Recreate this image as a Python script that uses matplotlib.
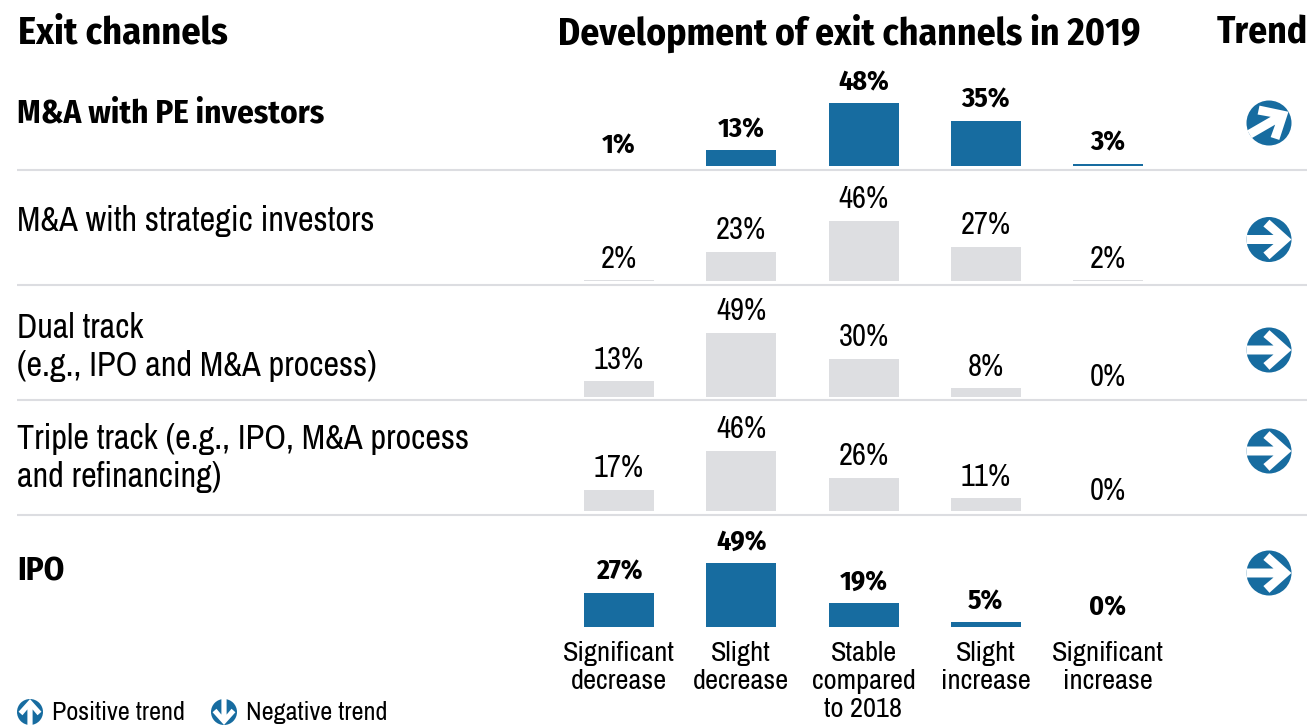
import matplotlib
matplotlib.use('Agg')
import matplotlib.pyplot as plt
from matplotlib.patches import Circle, Polygon
from matplotlib.transforms import Affine2D

plt.rcParams['font.family'] = ['Archivo Narrow', 'PT Sans Narrow', 'Liberation Sans', 'DejaVu Sans']
BOLD = ['Fira Sans Condensed', 'PT Sans Narrow', 'Liberation Sans', 'DejaVu Sans']

W, H = 1310, 727

# data
channels = ['M&A with PE investors', 'M&A with strategic investors',
            'Dual track\n(e.g., IPO and M&A process)',
            'Triple track (e.g., IPO, M&A process\nand refinancing)', 'IPO']
pe_investors = [1, 13, 48, 35, 3]
strategic = [2, 23, 46, 27, 2]
dual_track = [13, 49, 30, 8, 0]
triple_track = [17, 46, 26, 11, 0]
ipo = [27, 49, 19, 5, 0]
rows = [pe_investors, strategic, dual_track, triple_track, ipo]
highlight = [True, False, False, False, True]
trend_angle = [30, 0, 0, 0, 0]
categories = ['Significant\ndecrease', 'Slight\ndecrease', 'Stable\ncompared\nto 2018',
              'Slight\nincrease', 'Significant\nincrease']

BLUE = '#176ca0'
GREY = '#dddee1'
LINE = '#dcdde1'

# layout in pixels
baselines = [166, 281, 397, 511, 627]
label_y = [114, 221, 347, 458, 572]
icon_y = [123, 239.5, 350, 451, 573]
sep_y = [170, 285, 400, 515]
px_per_pct = 1.35
y_floor = 1.5  # bars in the original start slightly above zero, 1% shows no bar
row_top = 75  # axes height in px above the baseline

fig = plt.figure(figsize=(W / 100, H / 100), dpi=100)

# overlay in pixel coords for headers, lines and icons
bg = fig.add_axes([0, 0, 1, 1])
bg.set_xlim(0, W)
bg.set_ylim(H, 0)
bg.axis('off')

bg.text(18, 33, 'Exit channels', fontsize=27.5, family=BOLD, fontweight='bold', va='center')
bg.text(849, 33, 'Development of exit channels in 2019', fontsize=27, family=BOLD, fontweight='bold',
        va='center', ha='center')
bg.text(1308, 33, 'Trend', fontsize=27, family=BOLD, fontweight='bold', va='center', ha='right')

for y in sep_y:
    bg.plot([17, 1307], [y, y], color=LINE, lw=1.5, solid_capstyle='butt')

ARROW = [(-1, .2), (.2, .2), (-.25, .58), (.02, .88), (1, 0), (.02, -.88),
         (-.25, -.58), (.2, -.2), (-1, -.2)]


def icon(x, y, r, angle):
    bg.add_patch(Circle((x, y), r, fc=BLUE, ec='none'))
    # y axis is flipped, so minus the angle
    tr = Affine2D().scale(r).rotate_deg(-angle).translate(x, y) + bg.transData
    bg.add_patch(Polygon(ARROW, closed=True, fc='white', ec='none', transform=tr))


for i, name in enumerate(channels):
    if highlight[i]:
        bg.text(17, label_y[i], name, fontsize=23.7, va='center', family=BOLD, fontweight='bold')
    else:
        bg.text(17, label_y[i], name, fontsize=24.7, va='center', linespacing=1.25)
    icon(1269, icon_y[i], 22.5, trend_angle[i])

icon(30, 712, 13, 90)
icon(224, 712, 13, -90)
bg.text(52, 712, 'Positive trend', fontsize=18.9, va='center')
bg.text(246, 712, 'Negative trend', fontsize=18.9, va='center')

# one axes per row, all share the same x scale
x_left, x_right = 558, 1169
step = 122.25
for i, vals in enumerate(rows):
    base = baselines[i]
    ax = fig.add_axes([x_left / W, 1 - base / H, (x_right - x_left) / W, row_top / H])
    ax.set_xlim((x_left - 619) / step, (x_right - 619) / step)
    ax.set_ylim(y_floor, y_floor + row_top / px_per_pct)
    ax.axis('off')
    color = BLUE if highlight[i] else GREY
    ax.bar(range(5), vals, width=70 / step, color=color)
    for j, v in enumerate(vals):
        if highlight[i]:
            ax.annotate(f'{v}%', (j, v), xytext=(0, 5.5), textcoords='offset points',
                        ha='center', va='bottom', fontsize=20, annotation_clip=False,
                        family=BOLD, fontweight='bold')
        else:
            ax.annotate(f'{v}%', (j, v), xytext=(0, 5.5), textcoords='offset points',
                        ha='center', va='bottom', fontsize=22, annotation_clip=False)

for j, cat in enumerate(categories):
    bg.text(619 + j * step, 641, cat, fontsize=20.5, ha='center', va='top', linespacing=1.15)

fig.savefig('out.png', dpi=100)
